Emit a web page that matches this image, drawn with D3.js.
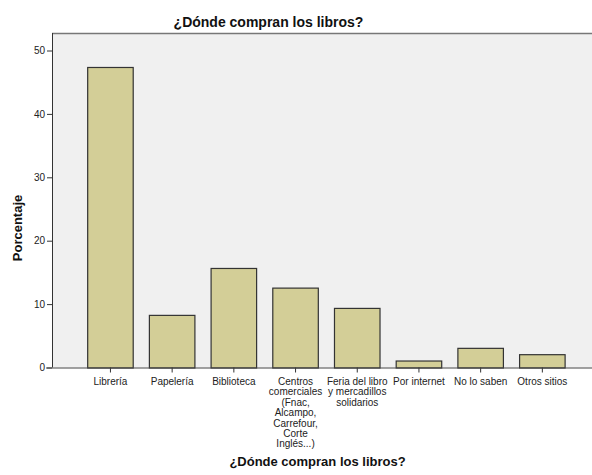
<!DOCTYPE html>
<html><head><meta charset="utf-8">
<script src="https://cdn.jsdelivr.net/npm/d3@7"></script>
<style>body{margin:0;background:#fff}svg{display:block}text{font-family:"Liberation Sans",Arial,sans-serif}</style>
</head><body>
<script>
const categories = ["Librería","Papelería","Biblioteca","Centros\ncomerciales\n(Fnac,\nAlcampo,\nCarrefour,\nCorte\nInglés...)","Feria del libro\ny mercadillos\nsolidarios","Por internet","No lo saben","Otros sitios"];
const values = [47.4, 8.3, 15.7, 12.6, 9.4, 1.1, 3.1, 2.1];
const yTicks = [0,10,20,30,40,50];
const title = "¿Dónde compran los libros?";
const yLabel = "Porcentaje";

(function(){
const W=592,H=475;
const svg=d3.select("body").append("svg").attr("width",W).attr("height",H);
const pl=52, pr=592, pt=33, base=367.5;
const y=d3.scaleLinear().domain([0,50]).range([base, base-50*6.34]);
const x=d3.scaleBand().domain(categories).range([79.6,79.6+8*61.7]).paddingInner(0.246).paddingOuter(0.123);

svg.append("rect").attr("x",pl).attr("y",pt).attr("width",pr-pl).attr("height",base-pt).attr("fill","#f0f0f0");
svg.append("line").attr("x1",pl).attr("x2",pr).attr("y1",pt+0.5).attr("y2",pt+0.5).attr("stroke","#777").attr("stroke-width",1.5);

svg.selectAll("rect.bar").data(values).join("rect").attr("class","bar")
  .attr("x",(d,i)=>x(categories[i])+0.5).attr("y",d=>y(d)+0.5)
  .attr("width",x.bandwidth()-1).attr("height",d=>base-y(d))
  .attr("fill","#d3ce97").attr("stroke","#333").attr("stroke-width",1.2);

const ya=svg.append("g").attr("transform",`translate(${pl},0)`).call(d3.axisLeft(y).tickValues(yTicks).tickSize(5).tickPadding(2).tickFormat(d3.format("d")));
ya.select(".domain").remove();
ya.selectAll(".tick line").attr("stroke","#333");
ya.selectAll(".tick text").attr("font-size",10).attr("fill","#222").attr("font-family","Liberation Sans, Arial, sans-serif");
svg.append("line").attr("x1",pl+0.5).attr("x2",pl+0.5).attr("y1",pt).attr("y2",base).attr("stroke","#333");

const xa=svg.append("g").attr("transform",`translate(0,${base})`).call(d3.axisBottom(x).tickSize(5).tickFormat(""));
xa.select(".domain").remove();
xa.selectAll(".tick line").attr("stroke","#333");
svg.append("line").attr("x1",pl-6).attr("x2",pr).attr("y1",base+0.5).attr("y2",base+0.5).attr("stroke","#444");

categories.forEach(c=>{
  const cx=x(c)+x.bandwidth()/2;
  const t=svg.append("text").attr("x",cx).attr("y",385).attr("text-anchor","middle").attr("font-size",10).attr("fill","#222");
  c.split("\n").forEach((l,i)=>t.append("tspan").attr("x",cx).attr("dy",i?10.4:0).text(l));
});

svg.append("text").attr("x",268.5).attr("y",27).attr("text-anchor","middle").attr("font-size",14).attr("font-weight","bold").attr("fill","#111").text(title);
svg.append("text").attr("x",317.5).attr("y",466).attr("text-anchor","middle").attr("font-size",13).attr("font-weight","bold").attr("fill","#111").text(title);
svg.append("text").attr("transform","translate(22,228) rotate(-90)").attr("text-anchor","middle").attr("font-size",13).attr("font-weight","bold").attr("fill","#111").text(yLabel);
})();
</script>
</body></html>
